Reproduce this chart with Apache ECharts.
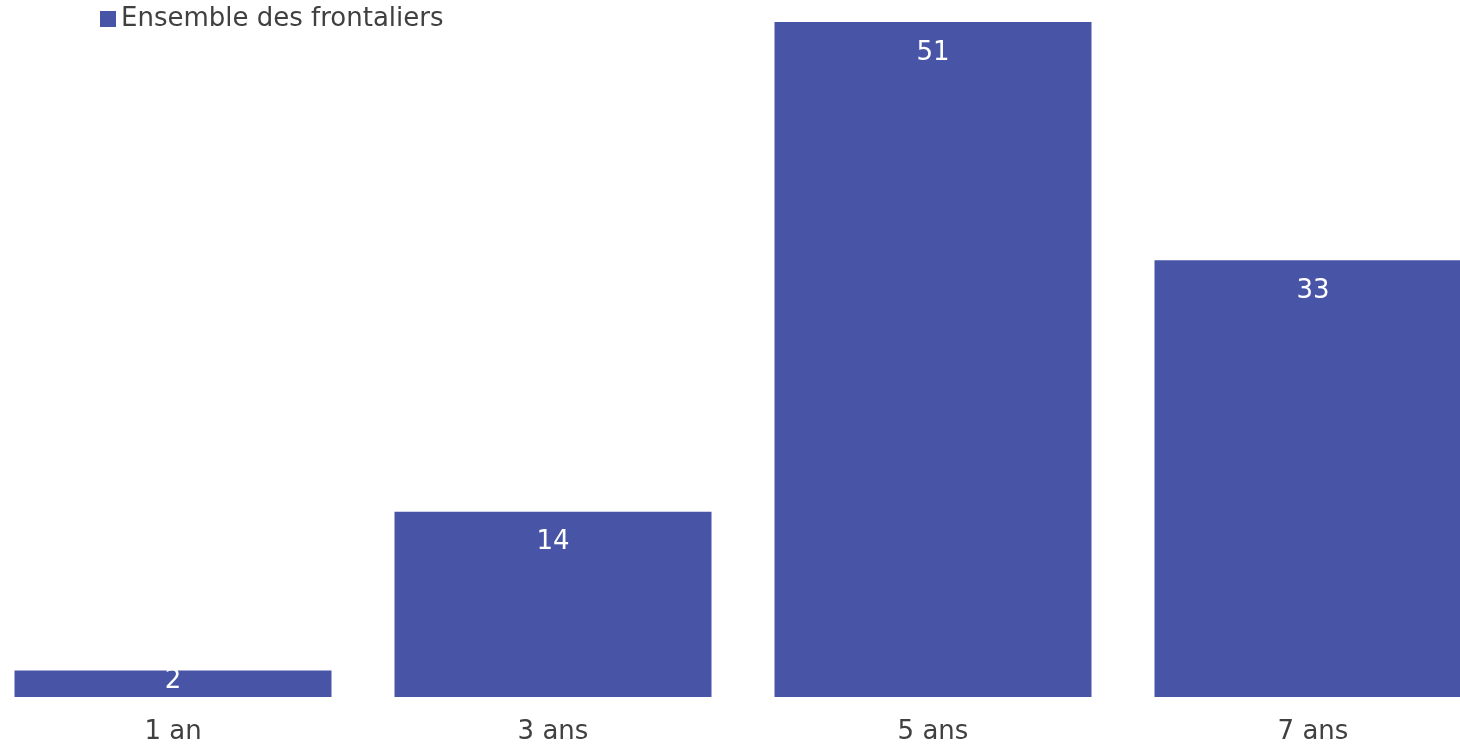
<!DOCTYPE html>
<html>
<head>
<meta charset="utf-8">
<script src="https://cdn.jsdelivr.net/npm/echarts@6/dist/echarts.min.js"></script>
<style>html,body{margin:0;padding:0;background:#fff}#c{width:1460px;height:747px}</style>
</head>
<body>
<div id="c"></div>
<script>
const categories = ["1 an", "3 ans", "5 ans", "7 ans"];
const values = [2, 14, 51, 33];
const seriesName = "Ensemble des frontaliers";

const chart = echarts.init(document.getElementById('c'), null, {renderer: 'canvas'});
const font = "DejaVu Sans";
chart.setOption({
  animation: false,
  textStyle: {fontFamily: font},
  legend: {
    data: [seriesName],
    left: 100, top: 6, padding: 0,
    itemWidth: 16, itemHeight: 16, itemGap: 5,
    icon: 'rect',
    textStyle: {fontFamily: font, fontSize: 26, color: '#404040'}
  },
  grid: {left: -17, width: 1520, top: 22, bottom: 50, containLabel: false, outerBoundsMode: 'none'},
  xAxis: {
    type: 'category', data: categories,
    axisLine: {show: false}, axisTick: {show: false},
    axisLabel: {fontFamily: font, fontSize: 26, color: '#404040', margin: 22}
  },
  yAxis: {type: 'value', min: 0, max: 51, show: false, splitLine: {show: false}},
  series: [{
    name: seriesName, type: 'bar', data: values.map((v, i) => i === 0 ? {value: v, label: {position: 'inside', offset: [0, -3]}} : v),
    barWidth: 317,
    itemStyle: {color: '#4855A6'},
    label: {show: true, position: 'insideTop', distance: 18, color: '#ffffff', fontFamily: font, fontSize: 26}
  }]
});
</script>
</body>
</html>
